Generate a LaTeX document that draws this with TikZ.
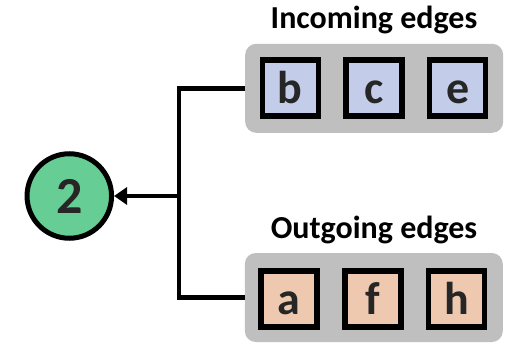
\documentclass[tikz,border=0pt]{standalone}
\usepackage{fontspec}
\setmainfont{Carlito}
\usetikzlibrary{arrows.meta}
\definecolor{contgray}{HTML}{BFBFBF}
\definecolor{inblue}{HTML}{C3CDE9}
\definecolor{outorange}{HTML}{EEC9B0}
\definecolor{nodegreen}{HTML}{66CE95}
\definecolor{textdark}{HTML}{262626}
\tikzset{
  container/.style={fill=contgray, rounded corners=11pt, minimum width=258pt, minimum height=89pt, inner sep=0pt},
  edgebox/.style={draw=black, line width=5.5pt, minimum size=56pt, inner sep=0pt,
    font=\fontsize{46}{46}\selectfont\bfseries, text=textdark, text height=31.6pt, text depth=0pt},
  inbox/.style={edgebox, fill=inblue},
  outbox/.style={edgebox, fill=outorange},
  vertex/.style={circle, draw=black, line width=5pt, fill=nodegreen, minimum size=84.5pt, inner sep=0pt,
    font=\fontsize{52}{52}\selectfont\bfseries, text=textdark, text height=34.6pt, text depth=0pt},
  title/.style={font=\fontsize{32}{32}\selectfont\bfseries, text=black, anchor=base, inner sep=0pt},
  link/.style={line width=4.5pt, draw=black},
}
\begin{document}
\begin{tikzpicture}[x=1pt,y=1pt]
\useasboundingbox (0,0) rectangle (505,343);
\node[container] (top) at (374.2,254.7) {};
\node[container] (bot) at (373.8,45.5) {};
\node[inbox] (b) at (290.3,254.8) {b};
\node[inbox] (c) at (374.2,254.8) {c};
\node[inbox] (e) at (457.7,254.8) {e};
\node[outbox] (a) at (289,44) {a};
\node[outbox] (f) at (373.2,44) {f};
\node[outbox] (h) at (456.5,44) {h};
\node[title] (tin) at (374,314.7) {Incoming edges};
\node[title] (tout) at (374,105) {Outgoing edges};
\node[vertex] (two) at (69.3,147) {2};
\coordinate (j) at (179,147);
\draw[link] (top.west) -| (j) |- (bot.west);
\draw[link, -{Triangle[length=13pt,width=17pt]}] (j) -- (two);
\end{tikzpicture}
\end{document}
